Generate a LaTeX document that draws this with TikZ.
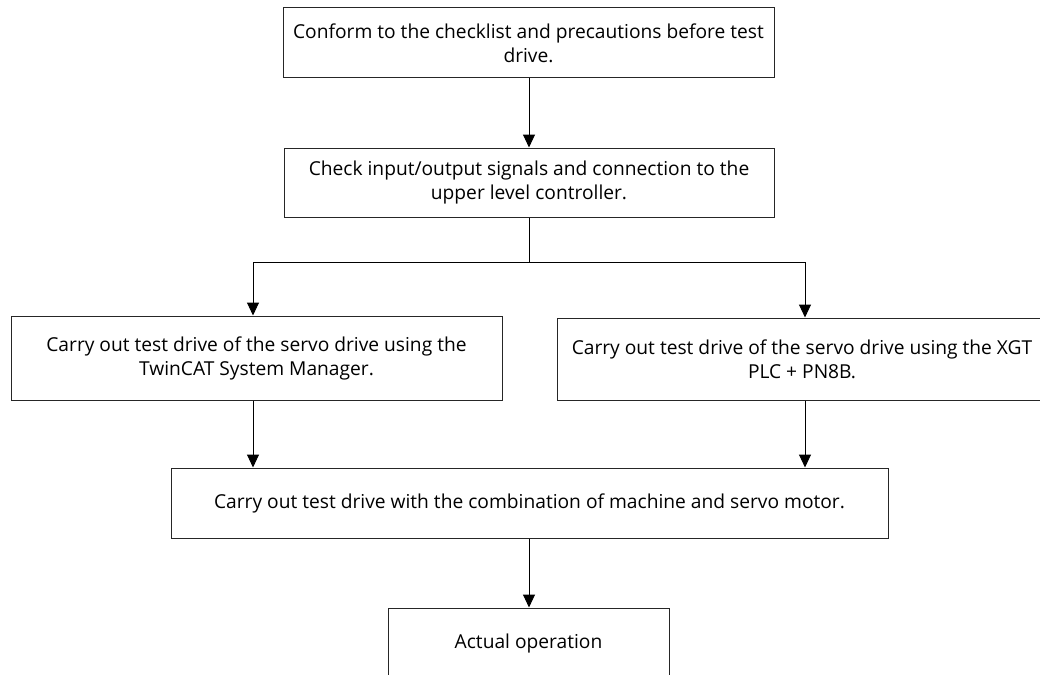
\documentclass[tikz,border=0pt]{standalone}
\usepackage{fontspec}
\setmainfont{Open Sans}
\usetikzlibrary{arrows.meta}
\begin{document}
\begin{tikzpicture}[x=1pt,y=-1pt,
  box/.style={draw=black!85,line width=1pt,align=center,font=\fontsize{19.2}{24}\selectfont,inner sep=0pt},
  conn/.style={draw=black,line width=1pt},
  arr/.style={conn,-{Triangle[length=13pt,width=12pt]}}]
\useasboundingbox (0,0) rectangle (1040,674);
\clip (0,0) rectangle (1040,674);
\node[box,minimum width=491pt,minimum height=70pt] (b1) at (528.5,43) {Conform to the checklist and precautions before test\\drive.};
\node[box,minimum width=490pt,minimum height=69pt] (b2) at (529,182.5) {Check input/output signals and connection to the\\upper level controller.};
\node[box,minimum width=491pt,minimum height=84pt] (b3) at (256.5,358) {Carry out test drive of the servo drive using the\\TwinCAT System Manager.};
\node[box,minimum width=560pt,minimum height=82pt] (b4) at (837,359) {};
\node[align=center,font=\fontsize{19.2}{24}\selectfont,inner sep=0pt] (t4) at (802,359) {Carry out test drive of the servo drive using the XGT\\PLC + PN8B.};
\node[box,minimum width=717pt,minimum height=70pt] (b5) at (529.5,503) {Carry out test drive with the combination of machine and servo motor.};
\node[box,minimum width=281pt,minimum height=72pt] (b6) at (528.5,644) {Actual operation};
\coordinate (j) at (529,262);
\coordinate (jl) at (253,262);
\coordinate (jr) at (805,262);
\draw[arr] (b1.south -| j) -- (b2.north -| j);
\draw[conn] (b2.south -| j) -- (j);
\draw[conn] (jl) -- (jr);
\draw[arr] (jl) -- (b3.north -| jl);
\draw[arr] (jr) -- (b4.north -| jr);
\draw[arr] (b3.south -| jl) -- (b5.north -| jl);
\draw[arr] (b4.south -| jr) -- (b5.north -| jr);
\draw[arr] (b5.south -| j) -- (b6.north -| j);
\end{tikzpicture}
\end{document}
